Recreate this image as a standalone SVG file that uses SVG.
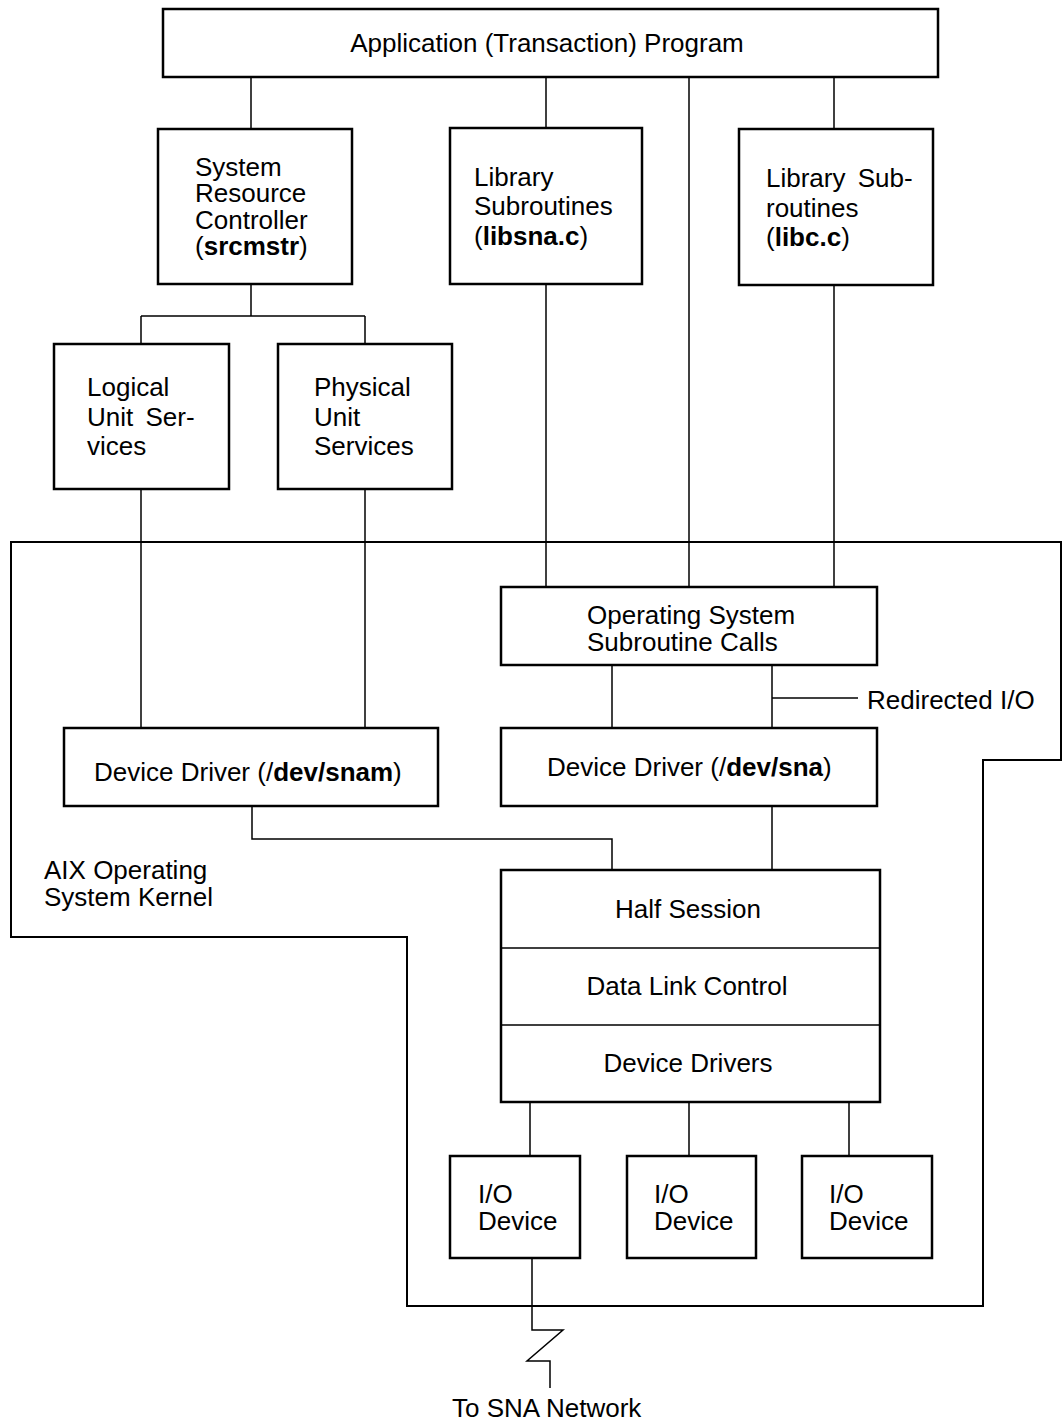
<svg xmlns="http://www.w3.org/2000/svg" width="1063" height="1425" viewBox="0 0 1063 1425">
  <style>
    .box{fill:#fff;stroke:#000;stroke-width:2.5}
    .wire{fill:none;stroke:#000;stroke-width:1.5}
    .kernel{fill:none;stroke:#000;stroke-width:2}
    text{font-family:"Liberation Sans",Arial,sans-serif;font-size:26px;fill:#000}
    .b{font-weight:bold}
    .mid{text-anchor:middle}
  </style>
  <rect width="1063" height="1425" fill="#fff"/>

  <!-- AIX kernel boundary -->
  <g id="kernel">
    <path class="kernel" d="M11 542 H1061 V760 H983 V1306 H407 V937 H11 Z"/>
    <text x="44" y="879">AIX Operating</text>
    <text x="44" y="906">System Kernel</text>
  </g>

  <!-- connectors -->
  <g id="connectors" class="wire">
    <path class="wire" d="M251 77 V129"/>
    <path class="wire" d="M546 77 V128"/>
    <path class="wire" d="M689 77 V587"/>
    <path class="wire" d="M834 77 V129"/>
    <path class="wire" d="M251 284 V316 M141 316 H365 M141 316 V344 M365 316 V344"/>
    <path class="wire" d="M141 489 V728"/>
    <path class="wire" d="M365 489 V728"/>
    <path class="wire" d="M546 284 V587"/>
    <path class="wire" d="M834 285 V587"/>
    <path class="wire" d="M612 665 V728"/>
    <path class="wire" d="M772 665 V728"/>
    <path class="wire" d="M772 698 H858"/>
    <path class="wire" d="M252 806 V839 H612 V870"/>
    <path class="wire" d="M772 806 V870"/>
    <path class="wire" d="M530 1102 V1156 M689 1102 V1156 M849 1102 V1156"/>
    <path class="wire" d="M532 1258 V1330 H563 L527 1361 H550 V1388"/>
  </g>

  <g id="app">
    <rect class="box" x="163" y="9" width="775" height="68"/>
    <text class="mid" x="547" y="52">Application (Transaction) Program</text>
  </g>

  <g id="src">
    <rect class="box" x="158" y="129" width="194" height="155"/>
    <text x="195" y="176">System</text>
    <text x="195" y="202">Resource</text>
    <text x="195" y="229">Controller</text>
    <text x="195" y="255">(<tspan class="b">srcmstr</tspan>)</text>
  </g>

  <g id="libsna">
    <rect class="box" x="450" y="128" width="192" height="156"/>
    <text x="474" y="186">Library</text>
    <text x="474" y="215">Subroutines</text>
    <text x="474" y="245">(<tspan class="b">libsna.c</tspan>)</text>
  </g>

  <g id="libc">
    <rect class="box" x="739" y="129" width="194" height="156"/>
    <text x="766" y="187" word-spacing="5">Library Sub-</text>
    <text x="766" y="217">routines</text>
    <text x="766" y="246">(<tspan class="b">libc.c</tspan>)</text>
  </g>

  <g id="lu">
    <rect class="box" x="54" y="344" width="175" height="145"/>
    <text x="87" y="396">Logical</text>
    <text x="87" y="426" word-spacing="5">Unit Ser-</text>
    <text x="87" y="455">vices</text>
  </g>

  <g id="pu">
    <rect class="box" x="278" y="344" width="174" height="145"/>
    <text x="314" y="396">Physical</text>
    <text x="314" y="426">Unit</text>
    <text x="314" y="455">Services</text>
  </g>

  <g id="oscalls">
    <rect class="box" x="501" y="587" width="376" height="78"/>
    <text x="587" y="624">Operating System</text>
    <text x="587" y="651">Subroutine Calls</text>
  </g>

  <g id="redirected">
    <text x="867" y="709">Redirected I/O</text>
  </g>

  <g id="dd-snam">
    <rect class="box" x="64" y="728" width="374" height="78"/>
    <text x="94" y="781">Device Driver (/<tspan class="b">dev/snam</tspan>)</text>
  </g>

  <g id="dd-sna">
    <rect class="box" x="501" y="728" width="376" height="78"/>
    <text x="547" y="776">Device Driver (/<tspan class="b">dev/sna</tspan>)</text>
  </g>

  <g id="stack">
    <rect class="box" x="501" y="870" width="379" height="232"/>
    <path class="wire" d="M501 948 H880 M501 1025 H880"/>
    <text class="mid" x="688" y="918">Half Session</text>
    <text class="mid" x="687" y="995">Data Link Control</text>
    <text class="mid" x="688" y="1072">Device Drivers</text>
  </g>

  <g id="io1">
    <rect class="box" x="450" y="1156" width="130" height="102"/>
    <text x="478" y="1203">I/O</text>
    <text x="478" y="1230">Device</text>
  </g>
  <g id="io2">
    <rect class="box" x="627" y="1156" width="129" height="102"/>
    <text x="654" y="1203">I/O</text>
    <text x="654" y="1230">Device</text>
  </g>
  <g id="io3">
    <rect class="box" x="802" y="1156" width="130" height="102"/>
    <text x="829" y="1203">I/O</text>
    <text x="829" y="1230">Device</text>
  </g>

  <g id="network">
    <text x="452" y="1417">To SNA Network</text>
  </g>
</svg>
